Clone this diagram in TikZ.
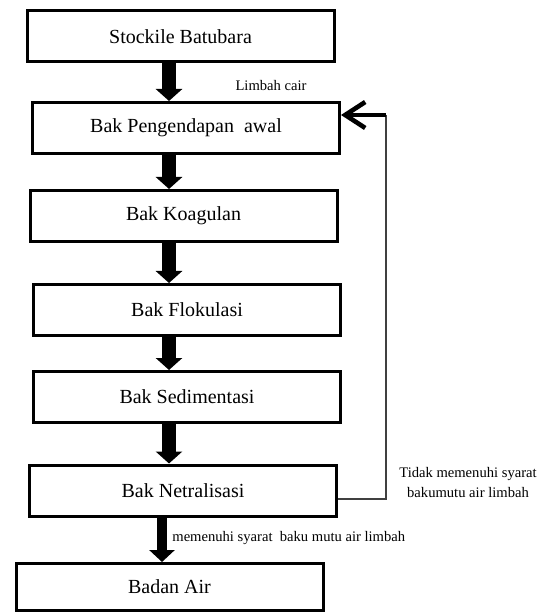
\documentclass[tikz,border=0pt]{standalone}
\usepackage{fontspec}
\setmainfont{Liberation Serif}
\newfontfamily\bakfont{Liberation Serif}
\usetikzlibrary{arrows.meta, positioning, calc}

\begin{document}
\begin{tikzpicture}[
    x=0.5pt, y=-0.5pt,
    box/.style={rectangle, draw, line width=1.5pt, minimum width=153.5pt, minimum height=25.5pt, inner sep=0pt, font=\bakfont\fontsize{10}{12}\selectfont},
    flow/.style={line width=7pt, -{Triangle[width=13pt, length=6pt]}},
    back/.style={draw=black!75, line width=0.6pt},
    lab/.style={font=\bakfont\fontsize{7.3}{10}\selectfont, inner sep=0pt}
  ]
  \useasboundingbox (0,0) rectangle (540,613);
  \node[box] (stock) at (180.5,36.5) {Stockile Batubara};
  \node[box] (pend) at (186,128) {Bak Pengendapan\ \ awal};
  \node[box] (koag) at (183.5,216) {Bak Koagulan};
  \node[box] (flok) at (187,310) {Bak Flokulasi};
  \node[box] (sedi) at (187,397) {Bak Sedimentasi};
  \node[box] (netral) at (183,490.5) {Bak Netralisasi};
  \node[box, minimum height=23.5pt] (badan) at (169.5,587) {Badan Air};
  % aliran utama
  \coordinate (ax) at (169,0);
  \coordinate (bx) at (162,0);
  \draw[flow] (stock.south -| ax) -- (pend.north -| ax);
  \draw[flow] (pend.south -| ax) -- (koag.north -| ax);
  \draw[flow] (koag.south -| ax) -- (flok.north -| ax);
  \draw[flow] (flok.south -| ax) -- (sedi.north -| ax);
  \draw[flow] (sedi.south -| ax) -- (netral.north -| ax);
  \draw[flow, line width=5pt, -{Triangle[width=12.5pt, length=6pt]}] (netral.south -| bx) -- (badan.north -| bx);
  % umpan balik
  \coordinate (retn) at (386,499);
  \coordinate (turn) at (386,115);
  \draw[back] (netral.east |- retn) -- (retn) -- (turn);
  \draw[line width=2.3pt, -{Straight Barb[length=10pt, width=13pt]}] (turn) -- (pend.east |- turn);
  % label
  \node[lab] (cair) at (271,86) {Limbah cair};
  \node[lab, align=center] (tidak) at (468,483) {Tidak memenuhi syarat\\bakumutu air limbah};
  \node[lab, anchor=west] (memenuhi) at (172,538) {memenuhi syarat\ \ baku mutu air limbah};
\end{tikzpicture}
\end{document}
